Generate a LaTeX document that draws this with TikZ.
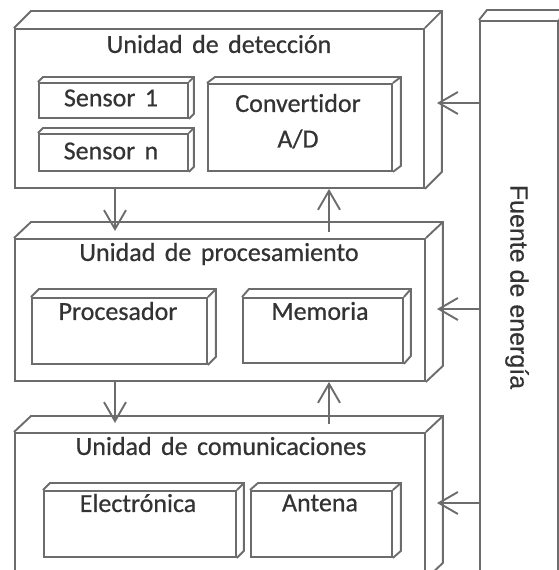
\documentclass[tikz,border=0pt]{standalone}
\usepackage{fontspec}
\setmainfont{Carlito}[WordSpace=1.6, Ligatures=NoCommon, FakeBold=0.6]
\newfontfamily\fuentefont{Liberation Sans}[FakeBold=0.4]
\usetikzlibrary{arrows.meta,calc}
\definecolor{linegray}{HTML}{6C6C6C}
\definecolor{textgray}{HTML}{333333}
\tikzset{
  face/.style={draw=linegray, line width=1.9pt, inner sep=0pt, anchor=north west},
  edgeD/.style={draw=linegray, line width=1.9pt, line join=miter},
  txt/.style={text=textgray, font=\fontsize{26}{28}\selectfont, inner sep=0pt},
  arr/.style={draw=linegray, line width=1.9pt, -{Straight Barb[length=19pt,width=22pt]}},
}
\newcommand\threeD[3]{%
  \draw[edgeD] (#1.north west) -- ++(#2,-#3) -| ($(#1.south east)+(#2,-#3)$) -- (#1.south east);
  \draw[edgeD] (#1.north east) -- ++(#2,-#3);}
\begin{document}
\begin{tikzpicture}[x=1pt,y=-1pt]
\useasboundingbox (0,0) rectangle (559,570);
\clip (0,0) rectangle (559,570);
% outer units
\node[face, minimum width=409pt, minimum height=159pt] (det) at (14,28) {};
\threeD{det}{17}{17}
\node[face, minimum width=410pt, minimum height=142pt] (proc) at (14,238) {};
\threeD{proc}{17}{16}
\node[face, minimum width=410pt, minimum height=145pt] (com) at (14,432) {};
\threeD{com}{17}{16}
\node[face, minimum width=78pt, minimum height=600pt] (fu) at (479,20) {};
\threeD{fu}{8}{10}
% inner boxes
\node[face, minimum width=149pt, minimum height=35pt] (s1) at (38,82) {};
\threeD{s1}{5}{5}
\node[face, minimum width=149pt, minimum height=37pt] (sn) at (38,133) {};
\threeD{sn}{5}{5}
\node[face, minimum width=184pt, minimum height=87pt] (conv) at (207,83) {};
\threeD{conv}{8}{6}
\node[face, minimum width=175pt, minimum height=66pt] (pr) at (31,297) {};
\threeD{pr}{8}{8}
\node[face, minimum width=160pt, minimum height=65pt] (mem) at (242,297) {};
\threeD{mem}{7}{8}
\node[face, minimum width=192pt, minimum height=66pt] (el) at (43,490) {};
\threeD{el}{7}{7}
\node[face, minimum width=141pt, minimum height=66pt] (an) at (250,490) {};
\threeD{an}{8}{7}
% texts
\node[txt] (tdet) at (219,44) {Unidad de detección};
\node[txt] (ts1) at (111,98) {Sensor 1};
\node[txt] (tsn) at (111,151) {Sensor n};
\node[txt] (tconv) at (298,103) {Convertidor};
\node[txt] (tad) at (298,139) {A/D};
\node[txt] (tproc) at (219,254) {Unidad de procesamiento};
\node[txt] (tpr) at (118,311) {Procesador};
\node[txt] (tmem) at (320,311) {Memoria};
\node[txt] (tcom) at (221,446) {Unidad de comunicaciones};
\node[txt] (tel) at (138,503) {Electrónica};
\node[txt] (tan) at (320,503) {Antena};
\node[txt, font=\fuentefont\fontsize{25}{27}\selectfont, rotate=-90] (tfu) at (517,287) {Fuente de energía};
% arrows between units
\coordinate (d1) at (115,231);
\draw[arr] (det.south -| d1) -- (d1);
\coordinate (u1) at (329,232);
\draw[arr] (u1) -- (u1 |- det.south);
\coordinate (d2) at (115,423);
\draw[arr] (proc.south -| d2) -- (d2);
\coordinate (u2) at (329,424);
\draw[arr] (u2) -- (u2 |- proc.south);
% power arrows
\coordinate (p1) at (437,103);
\coordinate (p2) at (437,309);
\coordinate (p3) at (437,503);
\draw[arr] (fu.west |- p1) -- (p1);
\draw[arr] (fu.west |- p2) -- (p2);
\draw[arr] (fu.west |- p3) -- (p3);
\end{tikzpicture}
\end{document}
